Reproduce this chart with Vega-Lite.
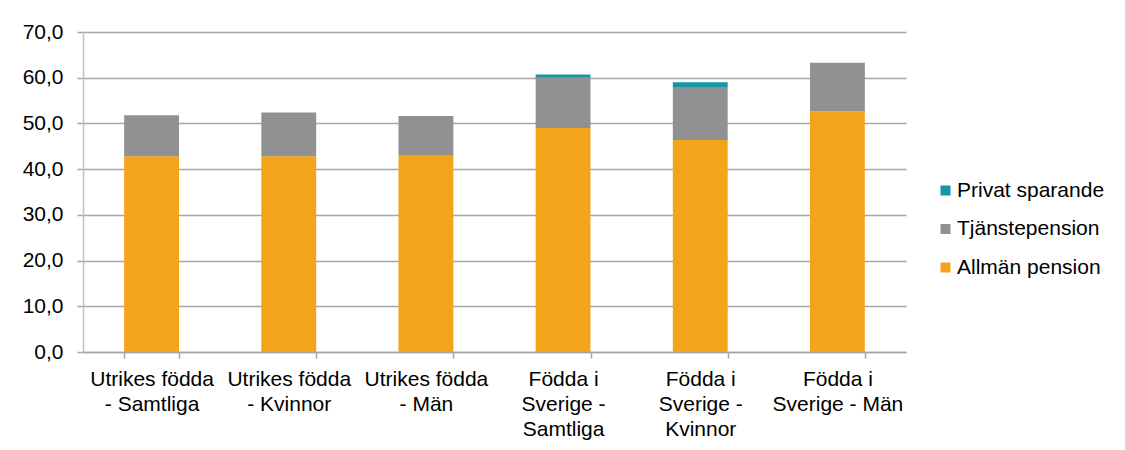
{
  "$schema": "https://vega.github.io/schema/vega-lite/v6.json",
  "width": 823,
  "height": 320,
  "autosize": "none",
  "padding": {"left": 83, "top": 32, "right": 219, "bottom": 98},
  "background": "white",
  "config": {
    "font": "Liberation Sans",
    "view": {"stroke": null},
    "axis": {"labelFont": "Liberation Sans", "labelColor": "#000000", "labelFontSize": 21}
  },
  "data": {
    "values": [
      {"grupp": "Utrikes födda - Samtliga", "typ": "Allmän pension", "niva": 1, "andel": 42.8},
      {"grupp": "Utrikes födda - Samtliga", "typ": "Tjänstepension", "niva": 2, "andel": 9.0},
      {"grupp": "Utrikes födda - Samtliga", "typ": "Privat sparande", "niva": 3, "andel": 0.0},
      {"grupp": "Utrikes födda - Kvinnor", "typ": "Allmän pension", "niva": 1, "andel": 42.8},
      {"grupp": "Utrikes födda - Kvinnor", "typ": "Tjänstepension", "niva": 2, "andel": 9.6},
      {"grupp": "Utrikes födda - Kvinnor", "typ": "Privat sparande", "niva": 3, "andel": 0.0},
      {"grupp": "Utrikes födda - Män", "typ": "Allmän pension", "niva": 1, "andel": 43.1},
      {"grupp": "Utrikes födda - Män", "typ": "Tjänstepension", "niva": 2, "andel": 8.5},
      {"grupp": "Utrikes födda - Män", "typ": "Privat sparande", "niva": 3, "andel": 0.0},
      {"grupp": "Födda i Sverige - Samtliga", "typ": "Allmän pension", "niva": 1, "andel": 49.0},
      {"grupp": "Födda i Sverige - Samtliga", "typ": "Tjänstepension", "niva": 2, "andel": 11.0},
      {"grupp": "Födda i Sverige - Samtliga", "typ": "Privat sparande", "niva": 3, "andel": 0.7},
      {"grupp": "Födda i Sverige - Kvinnor", "typ": "Allmän pension", "niva": 1, "andel": 46.4},
      {"grupp": "Födda i Sverige - Kvinnor", "typ": "Tjänstepension", "niva": 2, "andel": 11.4},
      {"grupp": "Födda i Sverige - Kvinnor", "typ": "Privat sparande", "niva": 3, "andel": 1.2},
      {"grupp": "Födda i Sverige - Män", "typ": "Allmän pension", "niva": 1, "andel": 52.6},
      {"grupp": "Födda i Sverige - Män", "typ": "Tjänstepension", "niva": 2, "andel": 10.7},
      {"grupp": "Födda i Sverige - Män", "typ": "Privat sparande", "niva": 3, "andel": 0.0}
    ]
  },
  "mark": {"type": "bar"},
  "encoding": {
    "x": {
      "field": "grupp",
      "type": "nominal",
      "sort": null,
      "title": null,
      "scale": {"paddingInner": 0.6, "paddingOuter": 0.3},
      "axis": {
        "labelAngle": 0,
        "labelAlign": "center",
        "labelBaseline": "top",
        "labelPadding": 10,
        "labelLineHeight": 25,
        "labelLimit": 0,
        "tickBand": "extent",
        "tickSize": 6,
        "tickColor": "#a6a6a6",
        "domainColor": "#a6a6a6",
        "domainWidth": 1.5,
        "tickWidth": 1.5,
        "grid": false,
        "labelExpr": "datum.value == 'Utrikes födda - Samtliga' ? ['Utrikes födda', '- Samtliga'] : datum.value == 'Utrikes födda - Kvinnor' ? ['Utrikes födda', '- Kvinnor'] : datum.value == 'Utrikes födda - Män' ? ['Utrikes födda', '- Män'] : datum.value == 'Födda i Sverige - Samtliga' ? ['Födda i', 'Sverige -', 'Samtliga'] : datum.value == 'Födda i Sverige - Kvinnor' ? ['Födda i', 'Sverige -', 'Kvinnor'] : datum.value == 'Födda i Sverige - Män' ? ['Födda i', 'Sverige - Män'] : ''"
      }
    },
    "y": {
      "field": "andel",
      "type": "quantitative",
      "stack": "zero",
      "title": null,
      "scale": {"domain": [0, 70], "nice": false},
      "axis": {
        "values": [0, 10, 20, 30, 40, 50, 60, 70],
        "labelExpr": "replace(format(datum.value, '.1f'), '.', ',')",
        "labelPadding": 14,
        "tickSize": 6,
        "tickColor": "#a6a6a6",
        "tickWidth": 1.5,
        "domainColor": "#bfbfbf",
        "domainWidth": 1.5,
        "grid": true,
        "gridColor": "#a6a6a6",
        "gridWidth": 1.5
      }
    },
    "order": {"field": "niva", "type": "quantitative", "sort": "ascending"},
    "color": {
      "field": "typ",
      "type": "nominal",
      "scale": {
        "domain": ["Privat sparande", "Tjänstepension", "Allmän pension"],
        "range": ["#1697a8", "#909193", "#f4a41a"]
      },
      "legend": {
        "title": null,
        "orient": "none",
        "legendX": 852,
        "legendY": 148,
        "symbolType": "square",
        "symbolSize": 100,
        "symbolStrokeWidth": 0,
        "labelFontSize": 21,
        "labelFont": "Liberation Sans",
        "labelColor": "#000000",
        "labelOffset": 1,
        "rowPadding": 16.5,
        "labelLimit": 0
      }
    }
  }
}
